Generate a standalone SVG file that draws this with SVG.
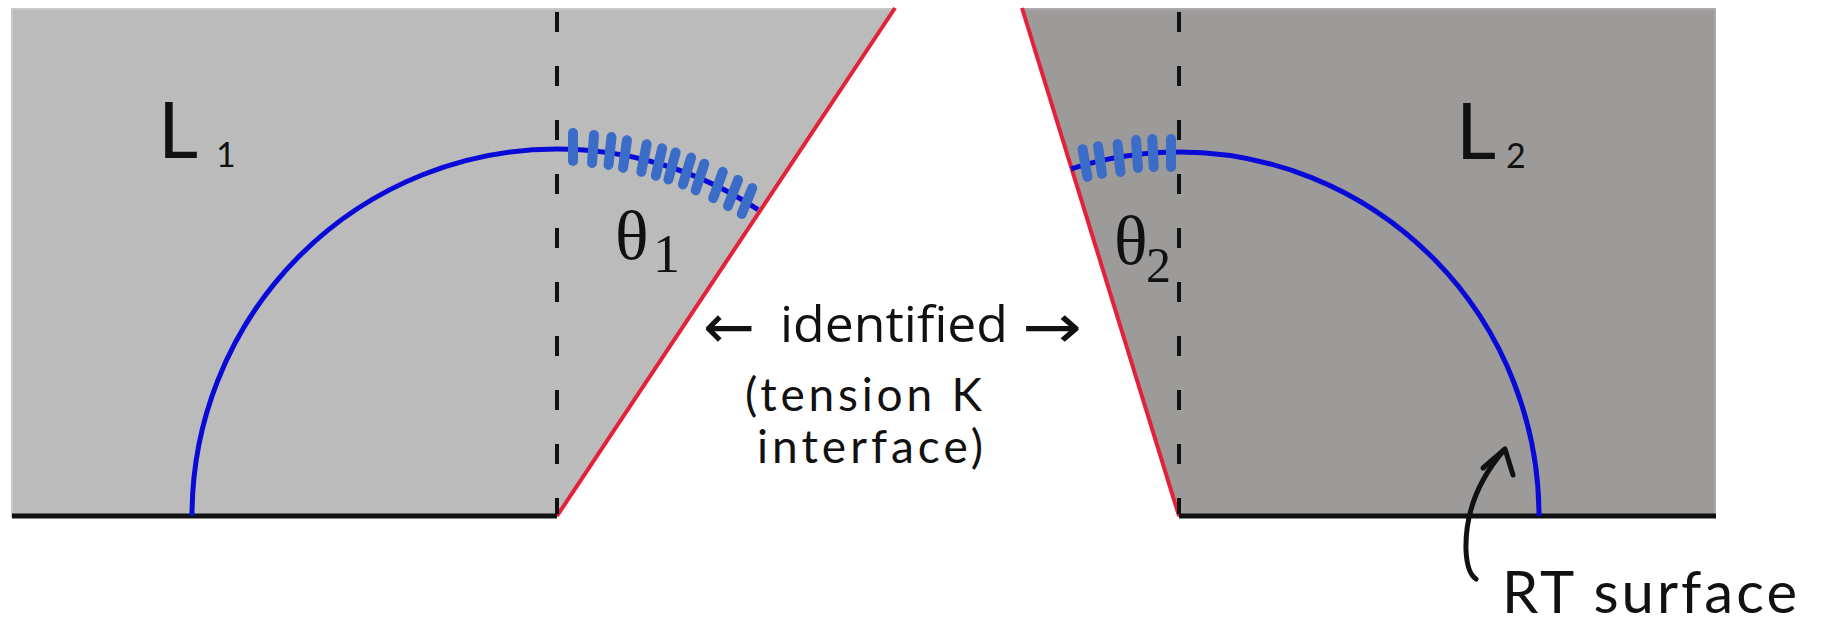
<svg xmlns="http://www.w3.org/2000/svg" width="1828" height="626" viewBox="0 0 1828 626">
<style>
.red{stroke:#e4213b;stroke-width:4;fill:none}
.dash{stroke:#111;stroke-width:4;stroke-dasharray:20 34;fill:none}
.base{stroke:#111;stroke-width:5;fill:none}
.arc{stroke:#0a0ad8;stroke-width:5;fill:none}
.tick{stroke:#3a6cc8;stroke-width:10;stroke-linecap:round}
.hand{font-family:"Lato","Liberation Sans",sans-serif;fill:#111;font-weight:400}
.greek{font-family:"Liberation Serif","DejaVu Serif",serif;fill:#111}
.ident{font-family:"Open Sans","Liberation Sans",sans-serif;fill:#111}
.arr{font-family:"DejaVu Sans","Liberation Sans",sans-serif;fill:#111}
.pen{stroke:#111;stroke-width:5;fill:none;stroke-linecap:round;stroke-linejoin:round}
</style>
<rect width="1828" height="626" fill="#ffffff"/>

<g id="region-L1">
  <polygon points="12,9 895,9 557,516 12,516" fill="#bbbbbb" stroke="#c8c8c8" stroke-width="2"/>
  <line class="red" x1="557" y1="516" x2="895" y2="8"/>
  <line class="dash" x1="557" y1="12" x2="557" y2="514"/>
  <line class="base" x1="12" y1="516" x2="557" y2="516"/>
  <text class="hand" x="158" y="158" font-size="78">L<tspan x="216" y="167" font-size="34">1</tspan></text>
  <text class="greek" x="615" y="259" font-size="70">θ<tspan x="653" y="272" font-size="54">1</tspan></text>
</g>

<g id="region-L2">
  <polygon points="1022,9 1715,9 1715,516 1179,516" fill="#9d9a9a" stroke="#acaaaa" stroke-width="2"/>
  <line class="red" x1="1179" y1="516" x2="1022" y2="8"/>
  <line class="dash" x1="1179" y1="12" x2="1179" y2="514"/>
  <line class="base" x1="1179" y1="516" x2="1716" y2="516"/>
  <text class="hand" x="1456" y="159" font-size="78">L<tspan x="1506" y="168" font-size="34">2</tspan></text>
  <text class="greek" x="1114" y="264" font-size="70">θ<tspan x="1146" y="282" font-size="50">2</tspan></text>
</g>

<g id="rt-surface">
  <path class="arc" d="M 192 516 A 365 367 0 0 1 557 149 A 365 367 0 0 1 758 209.7"/>
  <g id="ticks-left">
    <line class="tick" x1="573" y1="133" x2="573" y2="161"/>
    <line class="tick" x1="593" y1="135" x2="593" y2="163" transform="rotate(4 593 149)"/>
    <line class="tick" x1="610" y1="137" x2="610" y2="165" transform="rotate(6 610 151)"/>
    <line class="tick" x1="625" y1="140" x2="625" y2="168" transform="rotate(8 625 154)"/>
    <line class="tick" x1="644" y1="144" x2="644" y2="172" transform="rotate(11 644 158)"/>
    <line class="tick" x1="659" y1="148" x2="659" y2="176" transform="rotate(13 659 162)"/>
    <line class="tick" x1="672" y1="152" x2="672" y2="180" transform="rotate(15 672 166)"/>
    <line class="tick" x1="687" y1="157" x2="687" y2="185" transform="rotate(17 687 171)"/>
    <line class="tick" x1="700" y1="163" x2="700" y2="191" transform="rotate(18 700 177)"/>
    <line class="tick" x1="718" y1="171" x2="718" y2="199" transform="rotate(20 718 185)"/>
    <line class="tick" x1="733" y1="179" x2="733" y2="207" transform="rotate(21 733 193)"/>
    <line class="tick" x1="747" y1="187" x2="747" y2="215" transform="rotate(22 747 201)"/>
  </g>
  <path class="arc" d="M 1071 168.8 A 360 364 0 0 1 1179 152 A 360 364 0 0 1 1539 516"/>
  <g id="ticks-right">
    <line class="tick" x1="1085" y1="149" x2="1085" y2="177" transform="rotate(-10 1085 163)"/>
    <line class="tick" x1="1100" y1="146" x2="1100" y2="174" transform="rotate(-8 1100 160)"/>
    <line class="tick" x1="1119" y1="144" x2="1119" y2="172" transform="rotate(-6 1119 158)"/>
    <line class="tick" x1="1137" y1="140" x2="1137" y2="168" transform="rotate(-4 1137 154)"/>
    <line class="tick" x1="1153" y1="139" x2="1153" y2="167" transform="rotate(-3 1153 153)"/>
    <line class="tick" x1="1171" y1="139" x2="1171" y2="167"/>
  </g>
</g>

<g id="identified-label">
  <text class="arr" x="703" y="348" font-size="62" textLength="52" lengthAdjust="spacingAndGlyphs">←</text>
  <text class="ident" x="780" y="342" font-size="50" textLength="228" lengthAdjust="spacingAndGlyphs">identified</text>
  <text class="arr" x="1022" y="348" font-size="62" textLength="60" lengthAdjust="spacingAndGlyphs">→</text>
  <text class="hand" x="745" y="411" font-size="46" textLength="237" lengthAdjust="spacing">(tension K</text>
  <text class="hand" x="757" y="463" font-size="46" textLength="226" lengthAdjust="spacing">interface)</text>
</g>

<g id="connectors">
  <path class="pen" d="M 1476 579 Q 1467 573 1466 550 C 1465 512 1480 478 1504 450"/>
  <path class="pen" d="M 1483 468 L 1505 449 L 1513 475"/>
</g>

<g id="rt-label">
  <text class="hand" x="1502" y="613" font-size="58" textLength="295" lengthAdjust="spacing">RT surface</text>
</g>
</svg>
